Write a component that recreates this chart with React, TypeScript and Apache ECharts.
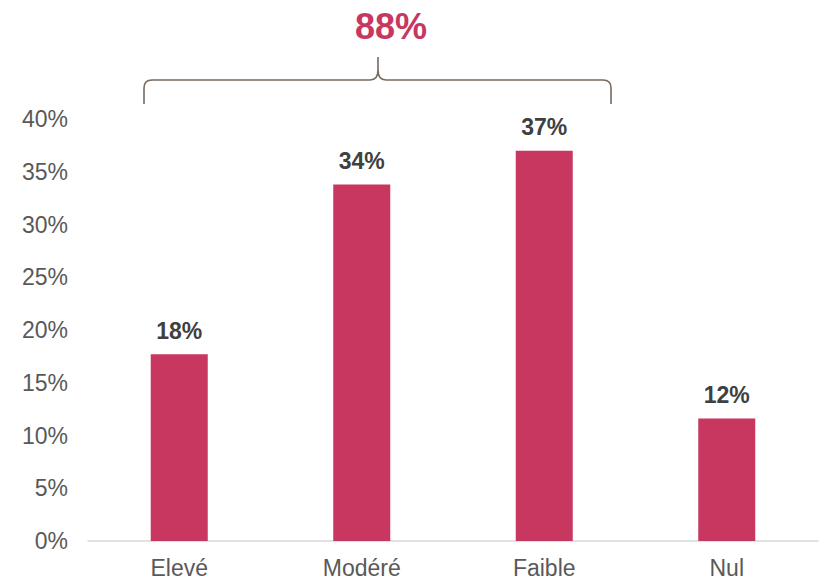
import React, { useEffect, useRef } from "react";
import * as echarts from "echarts";

const categories = ["Elevé", "Modéré", "Faible", "Nul"];
const values = [17.7, 33.8, 37.0, 11.6];
const yTicks = [0, 5, 10, 15, 20, 25, 30, 35, 40];
const totalLabel = "88%";

const BRACE_D =
  "M144 104 L144 88 Q144 80 152 80 L370 80 Q378 80 378 70 L378 57 M378 70 Q378 80 386 80 L603 80 Q611 80 611 88 L611 104";

let registered = false;

export default function App() {
  const ref = useRef<HTMLDivElement>(null);
  useEffect(() => {
    if (!registered) {
      echarts.graphic.registerShape("brace", echarts.graphic.extendPath(BRACE_D, {}) as any);
      registered = true;
    }
    const chart = echarts.init(ref.current!, null, { renderer: "svg" });
    const font = "'Liberation Sans', Arial, sans-serif";
    chart.setOption({
      animation: false,
      textStyle: { fontFamily: font },
      grid: { left: 88, right: 1, top: 119, bottom: 41, containLabel: false },
      xAxis: {
        type: "category",
        data: categories,
        axisLine: { lineStyle: { color: "#d9d9d9", width: 1.5 } },
        axisTick: { show: false },
        axisLabel: { color: "#595959", fontSize: 23, margin: 15, fontFamily: font },
      },
      yAxis: {
        type: "value",
        min: yTicks[0],
        max: yTicks[yTicks.length - 1],
        interval: 5,
        splitLine: { show: false },
        axisLine: { show: false },
        axisTick: { show: false },
        axisLabel: {
          color: "#595959",
          fontSize: 23,
          margin: 20,
          fontFamily: font,
          formatter: (v: number) => `${v}%`,
        },
      },
      series: [
        {
          type: "bar",
          data: values,
          barWidth: 57,
          itemStyle: { color: "#C8375F" },
          label: {
            show: true,
            position: "top",
            distance: 12,
            color: "#404040",
            fontWeight: "bold",
            fontSize: 23,
            fontFamily: font,
            formatter: (p: any) => `${Math.round(p.value)}%`,
          },
        },
      ],
      graphic: [
        {
          type: "brace",
          x: 0,
          y: 0,
          silent: true,
          style: { fill: "none", stroke: "#766a5f", lineWidth: 1.6 },
        },
        {
          type: "text",
          x: 391,
          y: 26,
          style: {
            text: totalLabel,
            fill: "#C8375F",
            fontSize: 36,
            fontWeight: "bold",
            fontFamily: font,
            textAlign: "center",
            textVerticalAlign: "middle",
          },
        },
      ],
    });
    return () => chart.dispose();
  }, []);
  return (
    <div
      ref={ref}
      style={{ position: "fixed", left: 0, top: 0, width: 819, height: 582, background: "#fff" }}
    />
  );
}
